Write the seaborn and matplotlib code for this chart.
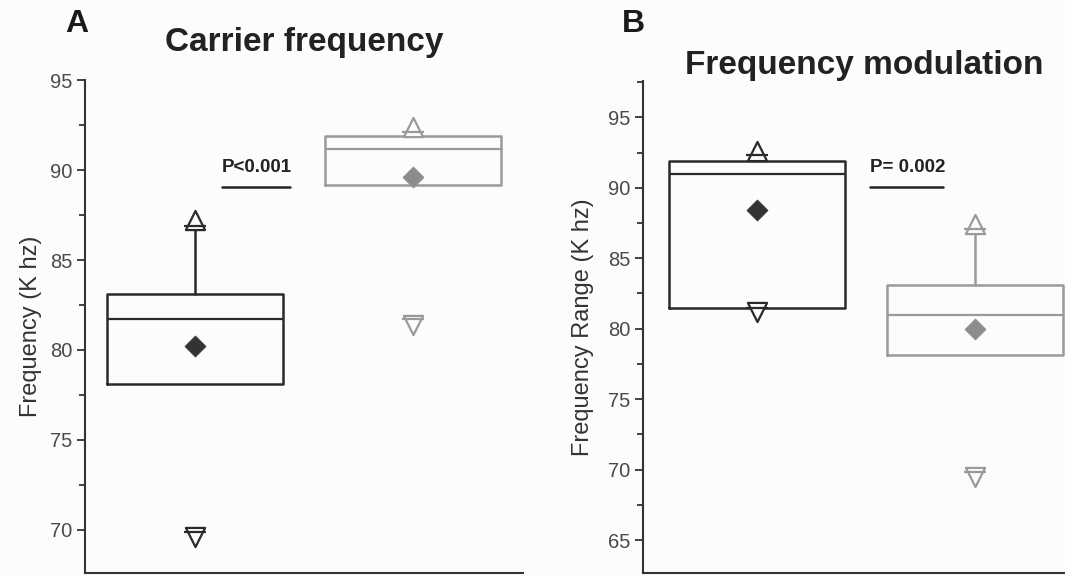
import numpy as np
import pandas as pd
import matplotlib
matplotlib.use("Agg")
import matplotlib.pyplot as plt
import seaborn as sns
from matplotlib.ticker import MultipleLocator

# Two groups per panel (K hz)
groups = ["Group 1", "Group 2"]

carrier_q1 = [78.1, 89.2]
carrier_med = [81.7, 91.2]
carrier_q3 = [83.1, 91.9]
carrier_mean = [80.2, 89.6]
carrier_whislo = [78.1, 89.2]
carrier_whishi = [87.0, 91.9]
carrier_max = [87.2, 92.4]
carrier_min = [69.6, 81.4]
carrier_p99 = [86.9, 92.1]
carrier_p1 = [69.9, 81.7]

fm_q1 = [81.5, 78.1]
fm_med = [91.0, 81.0]
fm_q3 = [91.9, 83.1]
fm_mean = [88.4, 80.0]
fm_whislo = [81.5, 78.1]
fm_whishi = [91.9, 87.0]
fm_max = [92.6, 87.4]
fm_min = [81.2, 69.5]
fm_p99 = [92.3, 87.1]
fm_p1 = [81.5, 69.8]

edge_colors = ["#2a2a2a", "#9a9a9a"]
mean_colors = ["#333333", "#8c8c8c"]
bg = "#fbfcfd"

sns.set_style("ticks")
plt.rcParams["font.family"] = ["Liberation Sans", "DejaVu Sans"]

fig = plt.figure(figsize=(10.65, 5.75), dpi=100, facecolor=bg)
axA = fig.add_axes([0.0798, 0.0035, 0.411, 0.857])
axB = fig.add_axes([0.6038, 0.0035, 0.415, 0.855])


def draw_panel(ax, q1, med, q3, mean, wlo, whi, vmax, vmin, p99, p1):
    ax.set_facecolor(bg)
    pos = np.arange(len(groups))
    for i in pos:
        st = [dict(med=med[i], q1=q1[i], q3=q3[i], whislo=wlo[i], whishi=whi[i],
                   mean=mean[i], fliers=[])]
        c = edge_colors[i]
        ax.bxp(st, positions=[i], widths=0.807, showcaps=False, showfliers=False,
               boxprops=dict(color=c, linewidth=1.8),
               medianprops=dict(color=c, linewidth=1.6),
               whiskerprops=dict(color=c, linewidth=1.8),
               manage_ticks=False)
        sns.scatterplot(x=[i], y=[mean[i]], marker="D", s=115, color=mean_colors[i],
                        edgecolor=mean_colors[i], linewidth=0.5, ax=ax, zorder=5)
        sns.scatterplot(x=[i], y=[vmax[i]], marker="^", s=190, color=bg,
                        edgecolor=c, linewidth=1.6, ax=ax, zorder=5)
        sns.scatterplot(x=[i], y=[vmin[i]], marker="v", s=190, color=bg,
                        edgecolor=c, linewidth=1.6, ax=ax, zorder=5)
        sns.scatterplot(x=[i, i], y=[p99[i], p1[i]], marker="_", s=260, color=c,
                        linewidth=1.6, ax=ax, zorder=6)
    sns.despine(ax=ax)
    for sp in ["left", "bottom"]:
        ax.spines[sp].set_color("#333333")
        ax.spines[sp].set_linewidth(1.5)
    ax.set_xticks([])
    ax.yaxis.set_major_locator(MultipleLocator(5))
    ax.yaxis.set_minor_locator(MultipleLocator(2.5))
    ax.tick_params(axis="y", which="major", length=6, width=1.3, color="#333333",
                   labelsize=14.5, labelcolor="#4a4a4a", pad=3)
    ax.tick_params(axis="y", which="minor", length=4, width=1.3, color="#333333")


draw_panel(axA, carrier_q1, carrier_med, carrier_q3, carrier_mean, carrier_whislo,
           carrier_whishi, carrier_max, carrier_min, carrier_p99, carrier_p1)
axA.set_xlim(-0.505, 1.505)
axA.set_ylim(67.6, 95)
axA.set_ylabel("Frequency (K hz)", fontsize=17, color="#333333", labelpad=6)
axA.set_title("Carrier frequency", fontsize=24, fontweight="bold", color="#222222", pad=21)
axA.text(0.284, 89.7, "P<0.001", ha="center", va="bottom", fontsize=13.5,
         fontweight="bold", color="#222222")
axA.plot([0.124, 0.436], [89.05, 89.05], color="#222222", linewidth=1.8)

draw_panel(axB, fm_q1, fm_med, fm_q3, fm_mean, fm_whislo,
           fm_whishi, fm_max, fm_min, fm_p99, fm_p1)
axB.set_xlim(-0.523, 1.505)
axB.set_ylim(62.66, 97.55)
axB.set_ylabel("Frequency Range (K hz)", fontsize=17, color="#333333", labelpad=10)
axB.set_title("Frequency modulation", fontsize=24, fontweight="bold", color="#222222", pad=2)
axB.text(0.69, 90.8, "P= 0.002", ha="center", va="bottom", fontsize=13.5,
         fontweight="bold", color="#222222")
axB.plot([0.518, 0.853], [90.05, 90.05], color="#222222", linewidth=1.8)

fig.text(0.061, 0.985, "A", fontsize=23, fontweight="bold", va="top", color="#1a1a1a")
fig.text(0.584, 0.985, "B", fontsize=23, fontweight="bold", va="top", color="#1a1a1a")

fig.savefig("out.png", dpi=100, facecolor=bg)
